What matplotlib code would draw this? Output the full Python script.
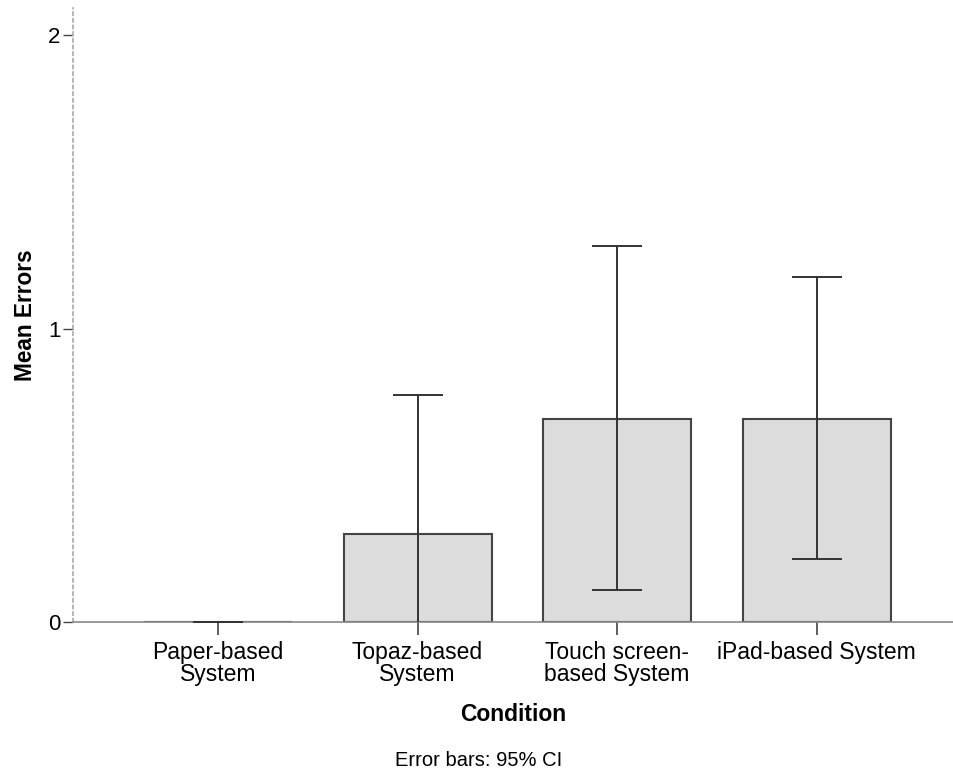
import matplotlib.pyplot as plt
import numpy as np

plt.rcParams['font.family'] = ['Liberation Sans', 'DejaVu Sans']

conditions = ["Paper-based\nSystem", "Topaz-based\nSystem", "Touch screen-\nbased System", "iPad-based System"]
mean_errors = [0.0, 0.30, 0.69, 0.69]
ci_lower = [0.0, -0.17, 0.11, 0.215]
ci_upper = [0.0, 0.775, 1.28, 1.175]

fig = plt.figure(figsize=(9.54, 7.79), dpi=100)
ax = fig.add_axes([73 / 954, 1 - 622 / 779, 881 / 954, 614 / 779])

x = np.arange(len(conditions))
means = np.array(mean_errors)
yerr = np.vstack([means - np.array(ci_lower), np.array(ci_upper) - means])

ax.bar(x, means, width=0.742, color="#dcdcdc", edgecolor="#444444", linewidth=1.5, zorder=2)
ax.errorbar(x, means, yerr=yerr, fmt="none", ecolor="#333333", elinewidth=1.4,
            capsize=18, capthick=1.4, zorder=3)

ax.set_xlim(-0.727, 3.689)
ax.set_ylim(0, 2.092)
ax.set_yticks([0, 1, 2])
ax.set_yticklabels(["0", "1", "2"])
ax.set_xticks(x)
ax.set_xticklabels(conditions, linespacing=0.92)

for side in ("top", "right"):
    ax.spines[side].set_visible(False)
ax.spines["left"].set_linestyle((0, (2, 2)))
ax.spines["left"].set_color("#aaaaaa")
ax.spines["left"].set_linewidth(1.2)
ax.spines["bottom"].set_color("#888888")
ax.spines["bottom"].set_linewidth(1.2)

ax.tick_params(axis="y", length=7, width=1, color="#444444", pad=2, labelsize=16)
ax.tick_params(axis="x", length=9, width=1.2, color="#444444", pad=5, labelsize=16.5)

ax.set_ylabel("Mean Errors", fontsize=16.3, fontweight="bold", labelpad=8)
ax.set_xlabel("Condition", fontsize=16.5, fontweight="bold", labelpad=12)

fig.text(479 / 954, 1 - 761 / 779, "Error bars: 95% CI", ha="center", va="center", fontsize=14.5)

fig.savefig("out.png", dpi=100)
